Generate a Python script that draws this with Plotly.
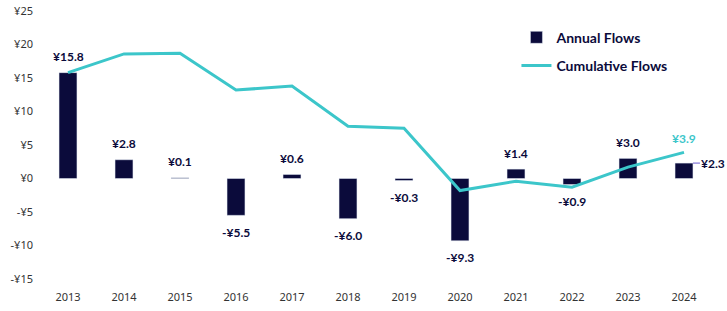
import plotly.graph_objects as go

years = [2013, 2014, 2015, 2016, 2017, 2018, 2019, 2020, 2021, 2022, 2023, 2024]
annual = [15.8, 2.8, 0.1, -5.5, 0.6, -6.0, -0.3, -9.3, 1.4, -0.9, 3.0, 2.3]
cumulative = [15.8, 18.6, 18.7, 13.2, 13.8, 7.8, 7.5, -1.8, -0.4, -1.3, 1.7, 3.9]
y_ticks = [-15, -10, -5, 0, 5, 10, 15, 20, 25]

NAVY = "#0B0B3B"
TEAL = "#3CC6CA"
FONT = "Lato"
BAR_W = 0.32

def fmt(v):
    return ("-¥%.1f" % abs(v)) if v < 0 else ("¥%.1f" % v)

fig = go.Figure()
fig.add_trace(go.Bar(x=years, y=annual, name="<b>Annual Flows</b>", marker_color=NAVY,
                     width=BAR_W, legendgroup="a"))
fig.add_trace(go.Scatter(x=years, y=cumulative, name="<b>Cumulative Flows</b>", mode="lines",
                         line=dict(color=TEAL, width=3), legendgroup="b"))

anns = []
for i, (yr, v) in enumerate(zip(years, annual)):
    if i == len(years) - 1:
        anns.append(dict(x=yr + BAR_W / 2, y=v, text="<b>" + fmt(v) + "</b>", showarrow=True,
                         arrowhead=0, arrowwidth=1, arrowcolor="#6A5ACD",
                         ax=7, ay=0, xanchor="left", borderpad=0,
                         font=dict(family=FONT, size=12, color=NAVY)))
    else:
        anns.append(dict(x=yr, y=v, text="<b>" + fmt(v) + "</b>", showarrow=False,
                         yshift=16 if v >= 0 else -17,
                         font=dict(family=FONT, size=12, color=NAVY)))
anns.append(dict(x=years[-1], y=cumulative[-1], text="<b>" + fmt(cumulative[-1]) + "</b>",
                 showarrow=False, yshift=14, font=dict(family=FONT, size=12, color=TEAL)))

fig.update_layout(
    width=727, height=311,
    margin=dict(l=40, r=15, t=11, b=32),
    paper_bgcolor="white", plot_bgcolor="white",
    showlegend=True,
    legend=dict(x=0.709, y=0.96, xanchor="left", yanchor="top", bgcolor="rgba(0,0,0,0)",
                font=dict(family=FONT, size=14, color=NAVY), tracegroupgap=7,
                traceorder="grouped"),
    annotations=anns,
)
fig.update_xaxes(range=[years[0] - 0.5, years[-1] + 0.5], tickvals=years,
                 ticktext=[str(y) for y in years],
                 showgrid=False, showline=False, zeroline=False,
                 tickfont=dict(family="Noto Sans", size=11, color="#333333"),
                 ticklabelstandoff=10, automargin=False)
fig.update_yaxes(range=[-15, 25], tickvals=y_ticks,
                 ticktext=[fmt(t).replace(".0", "") for t in y_ticks],
                 showgrid=False, showline=False, zeroline=False,
                 tickfont=dict(family="Noto Sans", size=11, color="#333333"),
                 ticklabelstandoff=6, automargin=False)

fig.write_html("out.html")
